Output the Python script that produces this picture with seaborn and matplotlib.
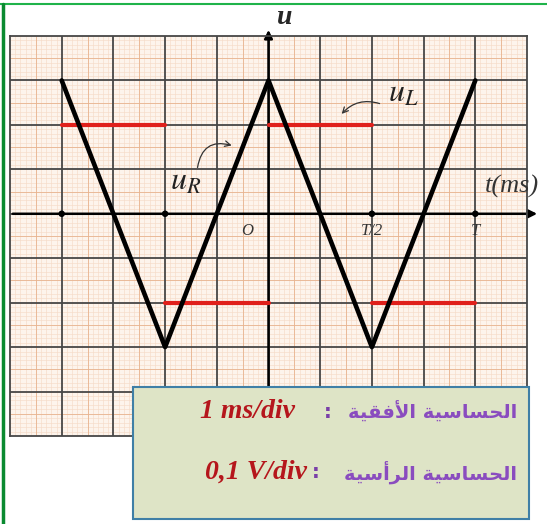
import numpy as np
import matplotlib
matplotlib.use("Agg")
import matplotlib.pyplot as plt
from matplotlib.patches import Rectangle
import pandas as pd
import seaborn as sns

sns.set_style("white")
plt.rcParams['mathtext.fontset'] = 'stix'

# u_R : triangle wave (divisions)
t_ur = [-4, -2, 0, 2, 4]
u_r = [3, -3, 3, -3, 3]

# u_L : square wave, one flat piece per half period
ul_start = [-4, -2, 0, 2]
ul_end = [-2, 0, 2, 4]
u_l = [2, -2, 2, -2]

# marked instants on the time axis
dot_t = [-4, -2, 2, 4]
tick_t = [0, 2, 4]
tick_labels = ['O', 'T/2', 'T']

sens_values = ['1 ms/div', '0,1 V/div']
sens_names = ['الحساسية الأفقية', 'الحساسية الرأسية']

# arabic shaping (matplotlib draws left to right, no joining)
# forms: isolated, final, initial, medial
AR_FORMS = {
    'ا': (0xFE8D, 0xFE8E, 0xFE8D, 0xFE8E),
    'أ': (0xFE83, 0xFE84, 0xFE83, 0xFE84),
    'ر': (0xFEAD, 0xFEAE, 0xFEAD, 0xFEAE),
    'ة': (0xFE93, 0xFE94, 0xFE93, 0xFE94),
    'ل': (0xFEDD, 0xFEDE, 0xFEDF, 0xFEE0),
    'ح': (0xFEA1, 0xFEA2, 0xFEA3, 0xFEA4),
    'س': (0xFEB1, 0xFEB2, 0xFEB3, 0xFEB4),
    'ي': (0xFEF1, 0xFEF2, 0xFEF3, 0xFEF4),
    'ف': (0xFED1, 0xFED2, 0xFED3, 0xFED4),
    'ق': (0xFED5, 0xFED6, 0xFED7, 0xFED8),
}
RIGHT_ONLY = set('اأرة')
LAM_ALEF = {'ا': (0xFEFB, 0xFEFC), 'أ': (0xFEF7, 0xFEF8)}


def shape_word(word):
    out = []
    i = 0
    prev_joins = False
    while i < len(word):
        ch = word[i]
        if ch == 'ل' and i + 1 < len(word) and word[i + 1] in LAM_ALEF:
            out.append(chr(LAM_ALEF[word[i + 1]][1 if prev_joins else 0]))
            prev_joins = False
            i += 2
            continue
        next_ok = i + 1 < len(word) and ch not in RIGHT_ONLY
        if prev_joins and next_ok:
            form = AR_FORMS[ch][3]
        elif prev_joins:
            form = AR_FORMS[ch][1]
        elif next_ok:
            form = AR_FORMS[ch][2]
        else:
            form = AR_FORMS[ch][0]
        out.append(chr(form))
        prev_joins = next_ok
        i += 1
    return ''.join(out)


def to_visual(text):
    return ' '.join(shape_word(w)[::-1] for w in text.split()[::-1])


fig = plt.figure(figsize=(5.47, 5.24), dpi=100)
ax = fig.add_axes([10 / 547, 1 - 436 / 524, 517 / 547, 400 / 524])
ax.set_xlim(-5, 5)
ax.set_ylim(-5, 4)
ax.set_facecolor('#fdf4ec')

# graph paper
for v in np.arange(-5, 5.001, 0.1):
    ax.axvline(v, color='#f6dcc8', lw=0.45, zorder=0)
for v in np.arange(-5, 4.001, 0.1):
    ax.axhline(v, color='#f6dcc8', lw=0.45, zorder=0)
for v in np.arange(-4.5, 5, 1.0):
    ax.axvline(v, color='#e8b48f', lw=0.6, zorder=0)
for v in np.arange(-4.5, 4, 1.0):
    ax.axhline(v, color='#e8b48f', lw=0.6, zorder=0)
for v in range(-4, 5):
    ax.axvline(v, color='#474747', lw=1.3, zorder=1)
for v in range(-4, 4):
    ax.axhline(v, color='#474747', lw=1.3, zorder=1)
for s in ax.spines.values():
    s.set_color('#474747')
    s.set_linewidth(1.3)
ax.tick_params(length=0, labelbottom=False, labelleft=False)

# axes with arrows
ax.annotate('', xy=(5.25, 0), xytext=(-5, 0), annotation_clip=False, zorder=2,
            arrowprops=dict(arrowstyle='-|>', color='black', lw=1.8, mutation_scale=12))
ax.annotate('', xy=(0, 4.2), xytext=(0, -5), annotation_clip=False, zorder=2,
            arrowprops=dict(arrowstyle='-|>', color='black', lw=1.8, mutation_scale=12))

# u_L segments
df_ul = pd.DataFrame({
    't': [t for a, b in zip(ul_start, ul_end) for t in (a, b)],
    'u': [u for u in u_l for _ in (0, 1)],
    'seg': [k for k in range(len(u_l)) for _ in (0, 1)],
})
sns.lineplot(data=df_ul, x='t', y='u', units='seg', estimator=None, sort=False,
             color='#e0201b', lw=3, ax=ax, zorder=3)

# u_R triangle
df_ur = pd.DataFrame({'t': t_ur, 'u': u_r})
sns.lineplot(data=df_ur, x='t', y='u', estimator=None, sort=False,
             color='black', lw=3.3, ax=ax, zorder=4)

sns.scatterplot(x=dot_t, y=[0] * len(dot_t), color='black', s=22, ax=ax, zorder=5, edgecolor='none')
ax.set_xlabel('')
ax.set_ylabel('')

serif = 'Liberation Serif'
ax.text(0.32, 4.42, 'u', fontsize=20, fontweight='bold', style='italic', family=serif,
        ha='center', va='center', clip_on=False)
ax.text(4.7, 0.62, 't(ms)', fontsize=19, style='italic', family=serif, color='#333333',
        ha='center', va='center', clip_on=False)
for t, lab in zip(tick_t, tick_labels):
    dx = -0.42 if lab == 'O' else 0
    ax.text(t + dx, -0.38, lab, fontsize=12, style='italic', family=serif, color='#333333',
            ha='center', va='center')

ax.text(-1.6, 0.72, r'$u_R$', fontsize=23, color='#222222', ha='center', va='center')
ax.annotate('', xy=(-0.66, 1.52), xytext=(-1.38, 0.98),
            arrowprops=dict(arrowstyle='->', color='#333333', lw=0.9,
                            connectionstyle='arc3,rad=-0.6'))
ax.text(2.6, 2.72, r'$u_L$', fontsize=23, color='#222222', ha='center', va='center')
ax.annotate('', xy=(1.38, 2.2), xytext=(2.2, 2.46),
            arrowprops=dict(arrowstyle='->', color='#333333', lw=0.9,
                            connectionstyle='arc3,rad=0.35'))

# sensitivity box
fig.patches.append(Rectangle((133 / 547, 1 - 519 / 524), 396 / 547, 132 / 524,
                             transform=fig.transFigure, facecolor='#dee4c6',
                             edgecolor='#3f7fa6', lw=1.5, zorder=10))
rows_y = [1 - 412 / 524, 1 - 472 / 524]
value_x = [295 / 547, 307 / 547]
colon_x = [328 / 547, 316 / 547]
for y, val, name, vx, cx in zip(rows_y, sens_values, sens_names, value_x, colon_x):
    fig.text(vx, y, val, fontsize=20, fontweight='bold', style='italic', family=serif,
             color='#b5161c', ha='right', va='center', zorder=11)
    fig.text(cx, y, ':', fontsize=14, fontweight='bold', color='#7a3fa8',
             ha='center', va='center', zorder=11)
    fig.text(517 / 547, y, to_visual(name), fontsize=14, fontweight='bold',
             family=['DejaVu Sans'], color='#8a4cbf', ha='right', va='center', zorder=11)

# frame of the picture
fig.add_artist(plt.Line2D([0, 1], [1 - 4 / 524] * 2, color='#1fb34a', lw=1.5, transform=fig.transFigure))
fig.add_artist(plt.Line2D([2.5 / 547] * 2, [0, 1 - 4 / 524], color='#0a8a30', lw=2.5, transform=fig.transFigure))

fig.savefig('out.png', dpi=100)
